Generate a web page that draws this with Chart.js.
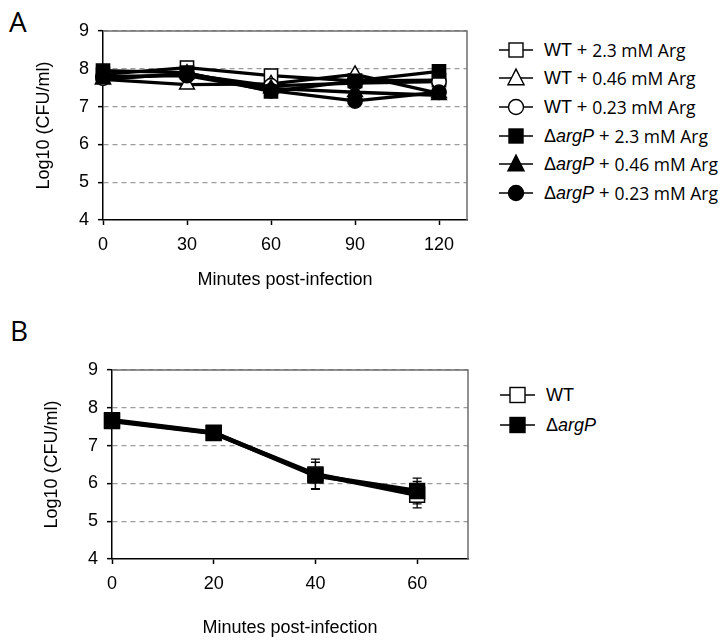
<!DOCTYPE html>
<html><head><meta charset="utf-8">
<script src="https://cdn.jsdelivr.net/npm/chart.js@4.4.1/dist/chart.umd.min.js"></script>
<style>
html,body{margin:0;padding:0;background:#fff;}
#wrap{position:relative;width:727px;height:644px;overflow:hidden;font-family:"Liberation Sans",Arial,sans-serif;color:#000;}
canvas{position:absolute;left:0;}
.panel{position:absolute;font-family:"Open Sans",sans-serif;font-size:28px;line-height:28px;}
.leg{position:absolute;height:24px;display:flex;align-items:center;font-size:18px;white-space:nowrap;}
.leg svg{margin-right:11px;flex:none}
.sm{font-family:"Open Sans",sans-serif;font-size:17.5px;margin-left:5px}
i{font-style:italic}
</style></head>
<body><div id="wrap">
<div class="panel" style="left:9px;top:7px">A</div>
<div class="panel" style="left:10px;top:316px">B</div>
<canvas id="cA" width="480" height="300" style="top:0;width:480px;height:300px"></canvas>
<canvas id="cB" width="480" height="324" style="top:320px;width:480px;height:324px"></canvas>
<div id="legA"></div><div id="legB"></div>
</div>
<script>
// ---------- Panel A data ----------
const aMinutes = [0, 30, 60, 90, 120];
const aXTicks = [0, 30, 60, 90, 120];
const aWT23 = [7.85, 8.03, 7.82, 7.68, 7.70];
const aWT046 = [7.72, 7.58, 7.60, 7.85, 7.35];
const aWT023 = [7.75, 7.85, 7.55, 7.62, 7.66];
const aArgP23 = [7.95, 7.90, 7.40, 7.68, 7.93];
const aArgP046 = [7.72, 7.88, 7.48, 7.38, 7.30];
const aArgP023 = [7.80, 7.82, 7.42, 7.15, 7.38];
const aStrain = ['WT', 'WT', 'WT', 'argP', 'argP', 'argP'];
const aConc = ['2.3 mM Arg', '0.46 mM Arg', '0.23 mM Arg', '2.3 mM Arg', '0.46 mM Arg', '0.23 mM Arg'];
// ---------- Panel B data ----------
const bMinutes = [0, 20, 40, 60];
const bXTicks = [0, 20, 40, 60];
const bWT = [7.65, 7.33, 6.24, 5.70];
const bWTErr = [0.05, 0.06, 0.40, 0.35];
const bArgP = [7.67, 7.34, 6.21, 5.80];
const bArgPErr = [0.05, 0.06, 0.35, 0.34];
const bStrain = ['WT', 'argP'];
const yTicks = [4, 5, 6, 7, 8, 9];

const FONT = "'Liberation Sans', Arial, sans-serif";
const styles = [
  {ps: 'rect', fill: '#fff', r: 9.3},
  {ps: 'triangle', fill: '#fff', r: 8.5},
  {ps: 'circle', fill: '#fff', r: 7.2},
  {ps: 'rect', fill: '#000', r: 9.3},
  {ps: 'triangle', fill: '#000', r: 8.5},
  {ps: 'circle', fill: '#000', r: 7.2}
];

function pts(xs, ys) { return xs.map((x, i) => ({x: x, y: ys[i]})); }

const frame = {
  id: 'frame',
  beforeDatasetsDraw(chart) {
    const a = chart.chartArea, c = chart.ctx;
    c.save();
    c.strokeStyle = '#6e6e6e'; c.lineWidth = 1.5;
    c.beginPath();
    c.moveTo(a.left, a.top); c.lineTo(a.right, a.top); c.lineTo(a.right, a.bottom);
    c.stroke();
    c.restore();
  }
};

const errBars = {
  id: 'errBars',
  beforeDatasetsDraw(chart, args, opts) {
    if (!opts.sets) return;
    const c = chart.ctx, xs = chart.scales.x, ys = chart.scales.y;
    c.save(); c.strokeStyle = '#000'; c.lineWidth = 1.3;
    opts.sets.forEach(s => {
      s.x.forEach((xv, i) => {
        const px = xs.getPixelForValue(xv);
        const top = ys.getPixelForValue(s.y[i] + s.e[i]);
        const bot = ys.getPixelForValue(s.y[i] - s.e[i]);
        c.beginPath();
        c.moveTo(px, top); c.lineTo(px, bot);
        c.moveTo(px - 4.5, top); c.lineTo(px + 4.5, top);
        c.moveTo(px - 4.5, bot); c.lineTo(px + 4.5, bot);
        c.stroke();
      });
    });
    c.restore();
  }
};

function scales(xmax, xt, yW, xH) {
  return {
    x: {
      type: 'linear', min: 0, max: xmax,
      afterBuildTicks: s => { s.ticks = xt.map(v => ({value: v})); },
      afterFit: s => { s.height = xH; },
      ticks: {font: {family: FONT, size: 18}, color: '#000', padding: 9, maxRotation: 0},
      grid: {drawOnChartArea: false, drawTicks: true, tickLength: 5, tickColor: '#000', tickWidth: 1.5},
      border: {color: '#000', width: 1.5},
      title: {display: true, text: 'Minutes post-infection', font: {family: FONT, size: 18}, color: '#000', padding: {top: 4, bottom: 4}}
    },
    y: {
      min: 4, max: 9,
      afterBuildTicks: s => { s.ticks = yTicks.map(v => ({value: v})); },
      afterFit: s => { s.width = yW; },
      ticks: {font: {family: FONT, size: 18}, color: '#000', padding: 9},
      grid: {
        color: c => (c.tick && c.tick.value === 4) ? 'rgba(0,0,0,0)' : '#9c9c9c',
        lineWidth: 1.3, tickLength: 5, tickColor: '#000', tickWidth: 1.5, tickBorderDash: []
      },
      border: {color: '#000', width: 1.5, dash: [5, 4]},
      title: {display: true, text: 'Log10 (CFU/ml)', font: {family: FONT, size: 18}, color: '#000', padding: {top: 4, bottom: 4}}
    }
  };
}

const aSeries = [aWT23, aWT046, aWT023, aArgP23, aArgP046, aArgP023];
new Chart(document.getElementById('cA'), {
  type: 'line',
  data: {
    datasets: aSeries.map((ys, i) => ({
      label: aStrain[i] + ' + ' + aConc[i],
      data: pts(aMinutes, ys),
      borderColor: '#000', borderWidth: 3.3,
      pointStyle: styles[i].ps, pointRadius: styles[i].r, pointHoverRadius: styles[i].r,
      pointBackgroundColor: styles[i].fill, pointBorderColor: '#000', pointBorderWidth: 1.5,
      tension: 0, clip: false, order: 10 - i
    }))
  },
  options: {
    responsive: false, animation: false, events: [],
    layout: {padding: {left: 29, top: 31, right: 13, bottom: 5}},
    plugins: {legend: {display: false}, tooltip: {enabled: false}},
    scales: scales(130, aXTicks, 74, 75)
  },
  plugins: [frame]
});

const bSeries = [bWT, bArgP];
const bStyles = [{fill: '#fff'}, {fill: '#000'}];
new Chart(document.getElementById('cB'), {
  type: 'line',
  data: {
    datasets: bSeries.map((ys, i) => ({
      label: bStrain[i],
      data: pts(bMinutes, ys),
      borderColor: '#000', borderWidth: 4.5,
      pointStyle: 'rect', pointRadius: 10.5, pointHoverRadius: 10.5,
      pointBackgroundColor: bStyles[i].fill, pointBorderColor: '#000', pointBorderWidth: 1.5,
      tension: 0, clip: false, order: 10 - i
    }))
  },
  options: {
    responsive: false, animation: false, events: [],
    layout: {padding: {left: 37, top: 50, right: 6, bottom: 1}},
    plugins: {
      legend: {display: false}, tooltip: {enabled: false},
      errBars: {sets: [{x: bMinutes, y: bWT, e: bWTErr}, {x: bMinutes, y: bArgP, e: bArgPErr}]}
    },
    scales: scales(70, bXTicks, 75, 84)
  },
  plugins: [frame, errBars]
});

// ---------- HTML legends ----------
function markerSvg(shape, fill, w, size) {
  const h = 24, cy = 12, cx = w / 2;
  let m = '';
  if (shape === 'rect') m = `<rect x="${cx - size / 2}" y="${cy - size / 2}" width="${size}" height="${size}" fill="${fill}" stroke="#000" stroke-width="1.4"/>`;
  if (shape === 'triangle') { const s = size * 1.15; m = `<polygon points="${cx},${cy - s * 0.55} ${cx + s / 2},${cy + s * 0.42} ${cx - s / 2},${cy + s * 0.42}" fill="${fill}" stroke="#000" stroke-width="1.4"/>`; }
  if (shape === 'circle') m = `<circle cx="${cx}" cy="${cy}" r="${size / 2 + 0.5}" fill="${fill}" stroke="#000" stroke-width="1.4"/>`;
  return `<svg width="${w}" height="${h}"><line x1="0" y1="${cy}" x2="${w}" y2="${cy}" stroke="#000" stroke-width="1.4"/>${m}</svg>`;
}
function strainHtml(s) { return s === 'WT' ? 'WT' : '&#916;<i>' + s + '</i>'; }
const legA = document.getElementById('legA');
const aRowY = [50, 78, 107, 136, 164, 193];
aStrain.forEach((s, i) => {
  const d = document.createElement('div');
  d.className = 'leg';
  d.style.left = '499px'; d.style.top = (aRowY[i] - 12) + 'px';
  d.innerHTML = markerSvg(styles[i].ps, styles[i].fill, 34, 14) + '<span>' + strainHtml(s) + ' +</span><span class="sm">' + aConc[i] + '</span>';
  legA.appendChild(d);
});
const legB = document.getElementById('legB');
const bRowY = [395, 425];
bStrain.forEach((s, i) => {
  const d = document.createElement('div');
  d.className = 'leg';
  d.style.left = '500px'; d.style.top = (bRowY[i] - 12) + 'px';
  d.innerHTML = markerSvg('rect', bStyles[i].fill, 35, 15) + '<span>' + strainHtml(s) + '</span>';
  legB.appendChild(d);
});
</script>
</body></html>
